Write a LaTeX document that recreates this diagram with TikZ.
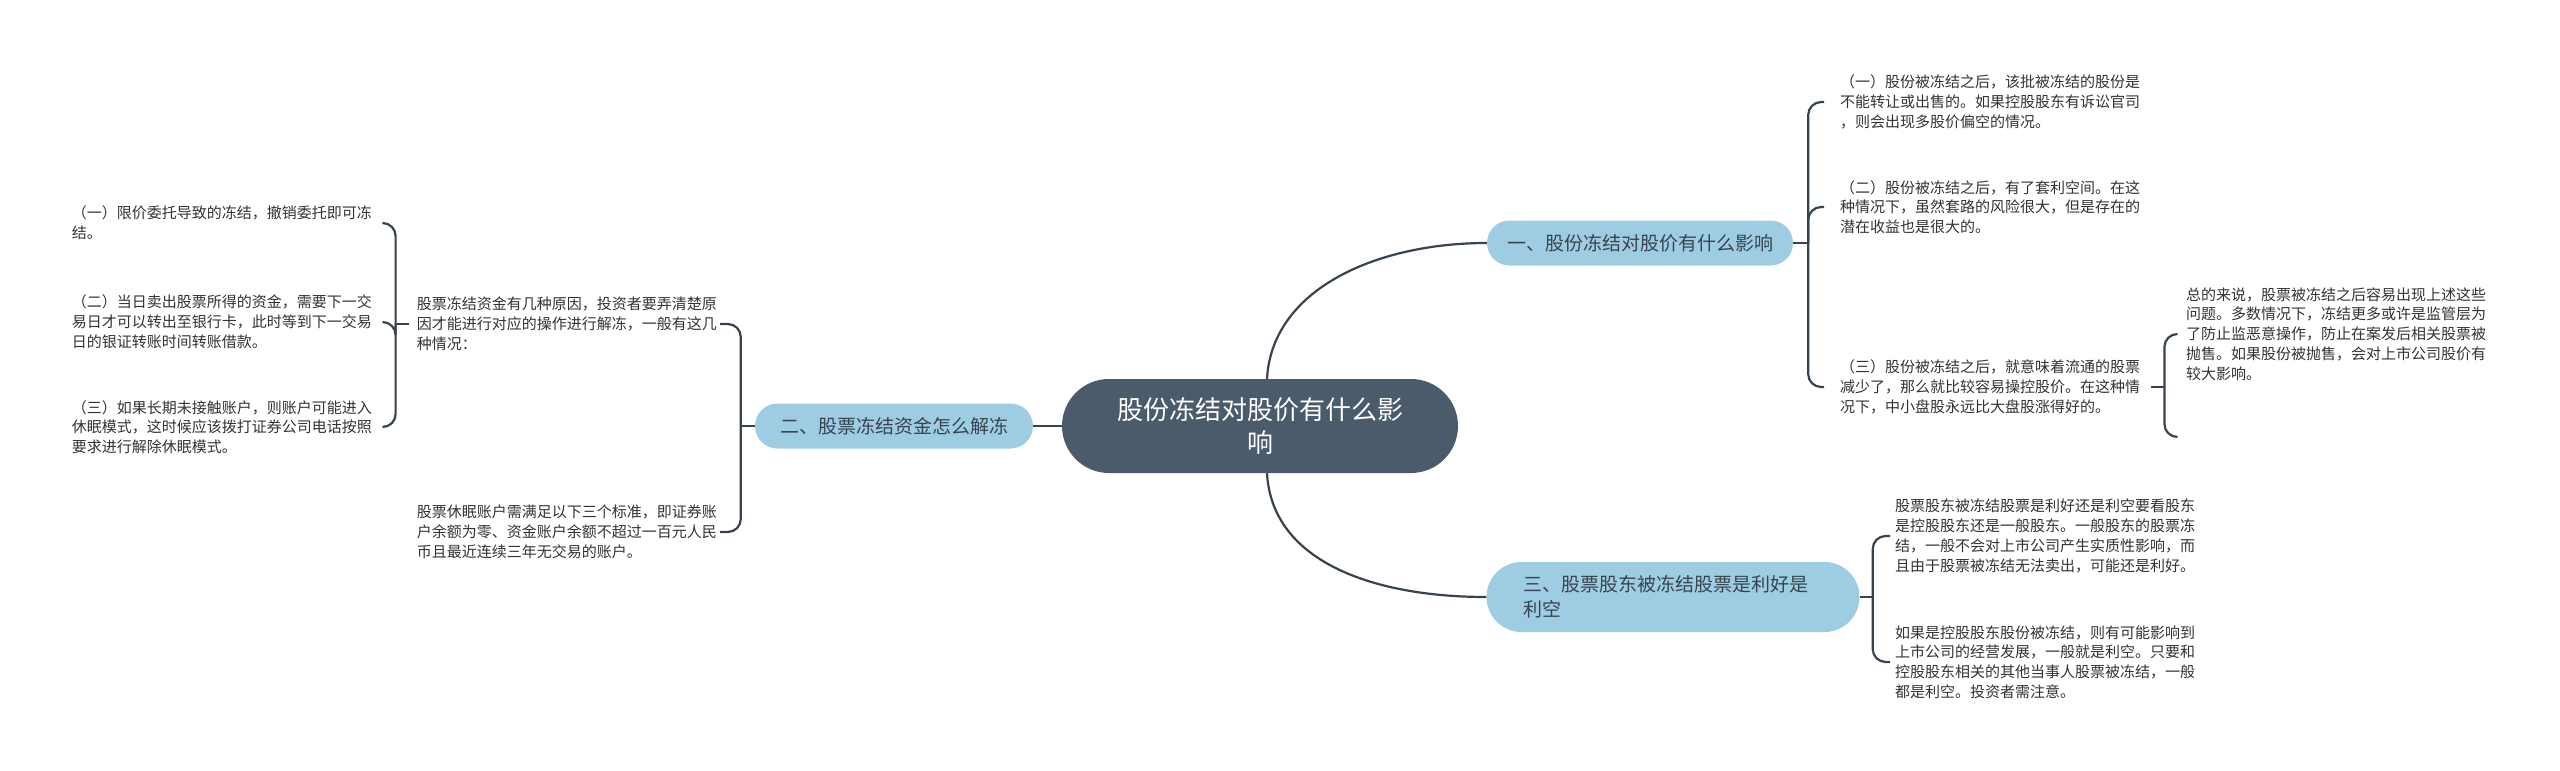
\documentclass[tikz,border=0pt]{standalone}
\usepackage{fontspec}
\setmainfont{Noto Sans CJK SC}
\usetikzlibrary{positioning}
\definecolor{rootfill}{HTML}{4B5B6B}
\definecolor{branchfill}{HTML}{9ECDE3}
\definecolor{linkcol}{HTML}{37444F}
\definecolor{leaftext}{HTML}{333333}

\begin{document}
\begin{tikzpicture}[x=1pt, y=-1pt,
  root/.style={rectangle, fill=rootfill, text=white, rounded corners=47pt, minimum width=396pt, minimum height=94pt, align=center, font=\fontsize{26}{33}\selectfont},
  branch/.style={rectangle, fill=branchfill, text=linkcol, rounded corners=22.5pt, minimum height=45pt, align=center, font=\fontsize{19}{25}\selectfont},
  leaf/.style={inner sep=0pt, text width=301pt, align=left, text=leaftext, font=\fontsize{15}{19.8}\selectfont},
  link/.style={draw=linkcol, line width=2.2pt},
  brace/.style={link, rounded corners=13pt}]

\useasboundingbox[fill=white] (0,0) rectangle (2560,771);

\node[root] (root) at (1260,426) {股份冻结对股价有什么影\\响};
\node[branch, minimum width=306pt] (b1) at (1640,243) {一、股份冻结对股价有什么影响};
\node[branch, minimum width=278pt] (b2) at (894,426) {二、股票冻结资金怎么解冻};
\node[branch, minimum width=373pt, minimum height=70pt, rounded corners=35pt, text width=300pt, align=left] (b3) at (1673,597) {三、股票股东被冻结股票是利好是\\利空};

\node[leaf, anchor=west] (c11) at (1840,102) {（一）股份被冻结之后，该批被冻结的股份是\\不能转让或出售的。如果控股股东有诉讼官司\\，则会出现多股价偏空的情况。};
\node[leaf, anchor=west] (c12) at (1840,207) {（二）股份被冻结之后，有了套利空间。在这\\种情况下，虽然套路的风险很大，但是存在的\\潜在收益也是很大的。};
\node[leaf, anchor=west] (c13) at (1840,387) {（三）股份被冻结之后，就意味着流通的股票\\减少了，那么就比较容易操控股价。在这种情\\况下，中小盘股永远比大盘股涨得好的。};
\node[leaf, anchor=west] (c131) at (2186,334) {总的来说，股票被冻结之后容易出现上述这些\\问题。多数情况下，冻结更多或许是监管层为\\了防止监恶意操作，防止在案发后相关股票被\\抛售。如果股份被抛售，会对上市公司股价有\\较大影响。};

\node[leaf, anchor=east] (c21) at (718,324) {股票冻结资金有几种原因，投资者要弄清楚原\\因才能进行对应的操作进行解冻，一般有这几\\种情况：};
\node[leaf, anchor=east] (c22) at (718,532) {股票休眠账户需满足以下三个标准，即证券账\\户余额为零、资金账户余额不超过一百元人民\\币且最近连续三年无交易的账户。};
\node[leaf, anchor=east] (g1) at (373,223) {（一）限价委托导致的冻结，撤销委托即可冻\\结。};
\node[leaf, anchor=east] (g2) at (373,322) {（二）当日卖出股票所得的资金，需要下一交\\易日才可以转出至银行卡，此时等到下一交易\\日的银证转账时间转账借款。};
\node[leaf, anchor=east] (g3) at (373,427) {（三）如果长期未接触账户，则账户可能进入\\休眠模式，这时候应该拨打证券公司电话按照\\要求进行解除休眠模式。};

\node[leaf, anchor=west] (c31) at (1895,536) {股票股东被冻结股票是利好还是利空要看股东\\是控股股东还是一般股东。一般股东的股票冻\\结，一般不会对上市公司产生实质性影响，而\\且由于股票被冻结无法卖出，可能还是利好。};
\node[leaf, anchor=west] (c32) at (1895,662) {如果是控股股东股份被冻结，则有可能影响到\\上市公司的经营发展，一般就是利空。只要和\\控股股东相关的其他当事人股票被冻结，一般\\都是利空。投资者需注意。};

\coordinate (b1s) at ([xshift=15pt]b1.east);
\coordinate (b2s) at ([xshift=-14pt]b2.west);
\coordinate (b3s) at ([xshift=13pt]b3.east);
\coordinate (c13s) at ([xshift=23pt]c13.east);
\coordinate (c21s) at ([xshift=-21pt]c21.west);
\coordinate (c13x) at (2177,437);

\draw[link] ([xshift=7pt]root.north) .. controls +(5,-90) and +(-110,0) .. (b1.west);
\draw[link] ([xshift=7pt]root.south) .. controls +(5,90) and +(-110,0) .. (b3.west);
\draw[link] (root.west) -- (b2.east);

\draw[link] (b1.east) -- (b1s);
\draw[brace] (b1s) |- ([xshift=-16pt]c11.west);
\draw[brace] (b1s) |- ([xshift=-16pt]c12.west);
\draw[brace] (b1s) |- ([xshift=-16pt]c13.west);

\draw[link] ([xshift=10pt]c13.east) -- (c13s);
\draw[brace] (c13s) |- ([xshift=-9pt]c131.west);
\draw[brace] (c13s) |- (c13x);

\draw[link] (b2.west) -- (b2s);
\draw[brace] (b2s) |- ([xshift=2pt]c21.east);
\draw[brace] (b2s) |- ([xshift=2pt]c22.east);

\draw[link] ([xshift=-8pt]c21.west) -- (c21s);
\draw[brace] (c21s) |- ([xshift=10pt]g1.east);
\draw[brace] (c21s) |- ([xshift=10pt]g2.east);
\draw[brace] (c21s) |- ([xshift=10pt]g3.east);

\draw[link] (b3.east) -- (b3s);
\draw[brace] (b3s) |- ([xshift=-5pt]c31.west);
\draw[brace] (b3s) |- ([xshift=-5pt]c32.west);

\end{tikzpicture}
\end{document}
